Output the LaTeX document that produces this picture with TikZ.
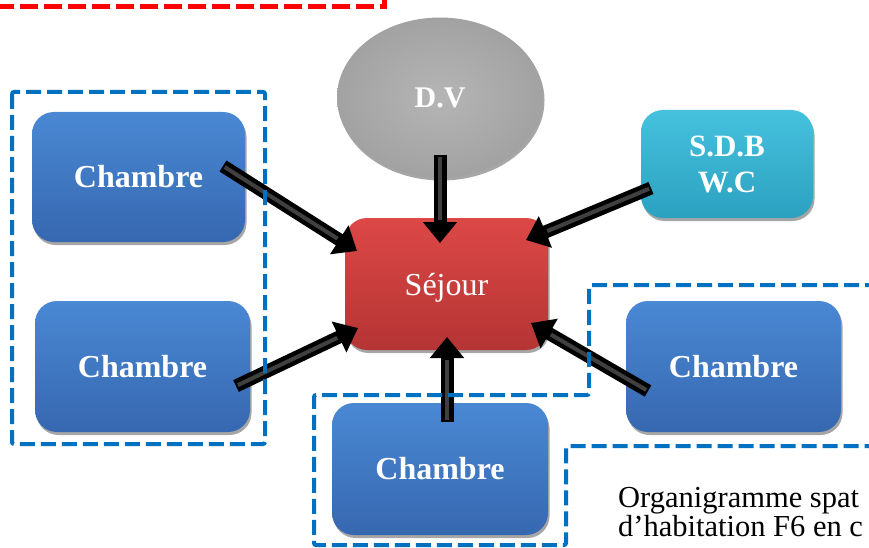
\documentclass[tikz,border=0pt]{standalone}
\usepackage{fontspec}
\setmainfont{Liberation Serif}
\usetikzlibrary{arrows.meta,shapes.geometric,shadows}
\definecolor{blueT}{HTML}{4A88D4}
\definecolor{blueB}{HTML}{3668B0}
\definecolor{redT}{HTML}{DC4846}
\definecolor{redB}{HTML}{B53434}
\definecolor{cyanT}{HTML}{45C1DE}
\definecolor{cyanB}{HTML}{2BA1C0}
\definecolor{grayI}{HTML}{B5B5B5}
\definecolor{grayO}{HTML}{A2A2A2}
\definecolor{dashblue}{HTML}{0070C0}
\tikzset{
  boxshadow/.style={drop shadow={shadow xshift=1.5pt,shadow yshift=-3pt,opacity=0.35,fill=black}},
  room/.style={rectangle, rounded corners=22pt, inner sep=0pt, text=white,
    font=\bfseries\fontsize{32}{37}\selectfont, align=center, boxshadow,
    top color=blueT, bottom color=blueB},
  living/.style={room, font=\fontsize{32}{37}\selectfont, top color=redT, bottom color=redB},
  wet/.style={room, font=\bfseries\fontsize{31}{36}\selectfont, top color=cyanT, bottom color=cyanB},
  hall/.style={ellipse, inner sep=0pt, text=white, boxshadow,
    font=\bfseries\fontsize{30}{34}\selectfont, shading=radial, inner color=grayI, outer color=grayO},
  conn/.style={line width=13pt, draw=black, -{Triangle[width=33pt,length=21pt]}},
  connstripe/.style={line width=4pt, draw=black!75, shorten >=23pt, shorten <=2pt},
  bluedash/.style={draw=dashblue, line width=4pt, dash pattern=on 15pt off 6pt, rounded corners=2pt},
  reddash/.style={draw=red, line width=5pt, dash pattern=on 18pt off 6pt},
  caption/.style={inner sep=0pt, anchor=base west, font=\fontsize{30.5}{28}\selectfont}
}
\begin{document}
\begin{tikzpicture}[x=1pt,y=-1pt]
\useasboundingbox (0,0) rectangle (869,548);
\clip (0,0) rectangle (869,548);
% nodes
\node[room, minimum width=213pt, minimum height=130pt] (ch1) at (138.5,177) {Chambre};
\node[room, minimum width=215pt, minimum height=131pt] (ch2) at (142.5,366.5) {Chambre};
\node[room, minimum width=215pt, minimum height=131pt] (ch3) at (733.5,366.5) {Chambre};
\node[room, minimum width=216pt, minimum height=132pt] (ch4) at (440,469) {Chambre};
\node[living, minimum width=203pt, minimum height=132pt] (sej) at (446.5,284) {\raisebox{-4pt}[22pt][7pt]{Séjour}};
\node[wet, minimum width=172pt, minimum height=108pt] (sdb) at (727,164) {S.D.B\\W.C};
\node[hall, minimum width=206pt, minimum height=160pt] (dv) at (440,97.5) {D.V};
% connector ends
\coordinate (a1s) at (223,166); \coordinate (a1e) at (357,251);
\coordinate (a2s) at (236,386); \coordinate (a2e) at (358,328);
\coordinate (a3s) at (440,155); \coordinate (a3e) at (440,243);
\coordinate (a4s) at (651,188); \coordinate (a4e) at (526,240);
\coordinate (a5s) at (648,391); \coordinate (a5e) at (531,323);
\coordinate (a6s) at (447,422); \coordinate (a6e) at (447,337);
\foreach \i in {1,...,6}{
  \draw[conn] (a\i s) -- (a\i e);
  \draw[connstripe] (a\i s) -- (a\i e);
}
% dashed frames
\draw[bluedash] (12,92) rectangle (265,444);
\draw[bluedash] (880,285) -- (589,285) -- (589,395) -- (314,395) -- (314,545)
  -- (566,545) -- (566,446) -- (880,446);
\draw[reddash] (-4,6.5) -- (384,6.5) -- (384,-10);
% caption
\node[caption] (cap1) at (618,507) {Organigramme spat};
\node[caption] (cap2) at (618,536) {d’habitation F6 en c};
\end{tikzpicture}
\end{document}
